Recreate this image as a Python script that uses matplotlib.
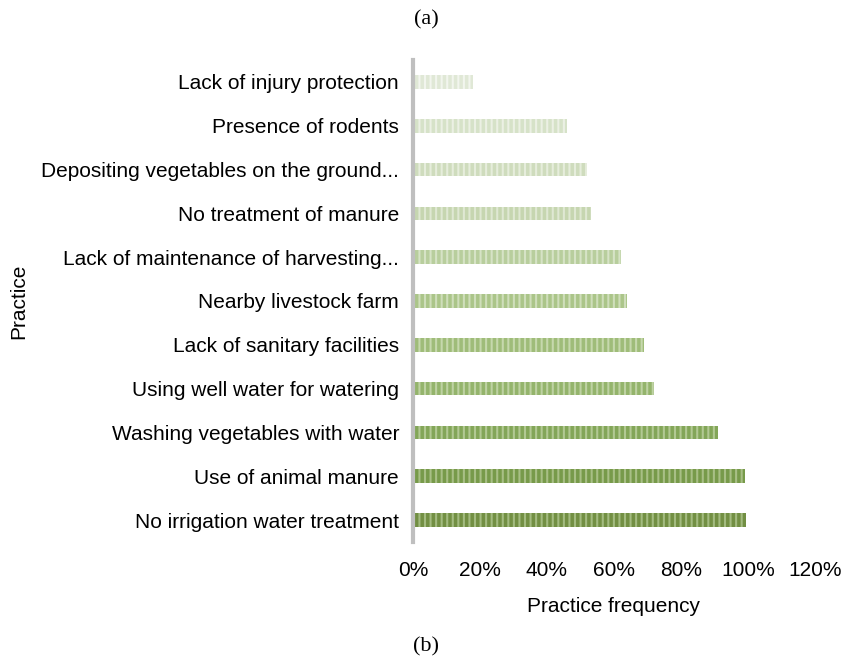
import matplotlib.pyplot as plt
from matplotlib.ticker import PercentFormatter

# practices, top to bottom as in the chart
practices = ['Lack of injury protection', 'Presence of rodents',
             'Depositing vegetables on the ground...', 'No treatment of manure',
             'Lack of maintenance of harvesting...', 'Nearby livestock farm',
             'Lack of sanitary facilities', 'Using well water for watering',
             'Washing vegetables with water', 'Use of animal manure',
             'No irrigation water treatment']
freq = [18, 46, 52, 53, 62, 64, 69, 72, 91, 99, 99.5]

base_colors = ['#e0e8d6', '#d6e2c8', '#cfdcbd', '#c6d6b0', '#b8ce9d', '#abc589',
               '#9fbc79', '#94b46c', '#83a658', '#779a4a', '#728f43']
stripe_colors = ['#f2f5ee', '#ebf0e4', '#e6eddc', '#dfe8d3', '#d6e3c6', '#cfdebb',
                 '#c6d8ad', '#bed2a3', '#b2c993', '#a8bf86', '#a3bb80']

plt.rcParams['font.family'] = ['Liberation Sans', 'DejaVu Sans']
plt.rcParams['hatch.linewidth'] = 1.5

fig = plt.figure(figsize=(8.53, 6.61), dpi=100)
ax = fig.add_axes([413 / 853, 1 - 542 / 661, (815 - 413) / 853, (542 - 60) / 661])

y = list(range(len(practices)))
for i in y:
    ax.barh(i, freq[i], height=0.31, color=base_colors[i],
            edgecolor=stripe_colors[i], hatch='|||', linewidth=0)

ax.set_ylim(len(practices) - 0.5, -0.5)
ax.set_xlim(0, 120)
ax.set_yticks(y)
ax.set_yticklabels(practices, fontsize=15)
ax.set_xticks(range(0, 121, 20))
ax.xaxis.set_major_formatter(PercentFormatter(decimals=0))
ax.tick_params(axis='x', labelsize=15, length=0, pad=14)
ax.tick_params(axis='y', length=0, pad=10)

for s in ['top', 'right', 'bottom']:
    ax.spines[s].set_visible(False)
ax.spines['left'].set_color('#bfbfbf')
ax.spines['left'].set_linewidth(3)

ax.set_xlabel('Practice frequency', fontsize=15, labelpad=12)
ax.set_ylabel('Practice', fontsize=15)
ax.yaxis.set_label_coords(-385 / 402, 0.5)

fig.text(426 / 853, 1 - 20 / 661, '(a)', ha='center', va='center',
         fontsize=16, family='Liberation Serif')
fig.text(426 / 853, 1 - 647 / 661, '(b)', ha='center', va='center',
         fontsize=16, family='Liberation Serif')

fig.savefig('out.png', dpi=100)
